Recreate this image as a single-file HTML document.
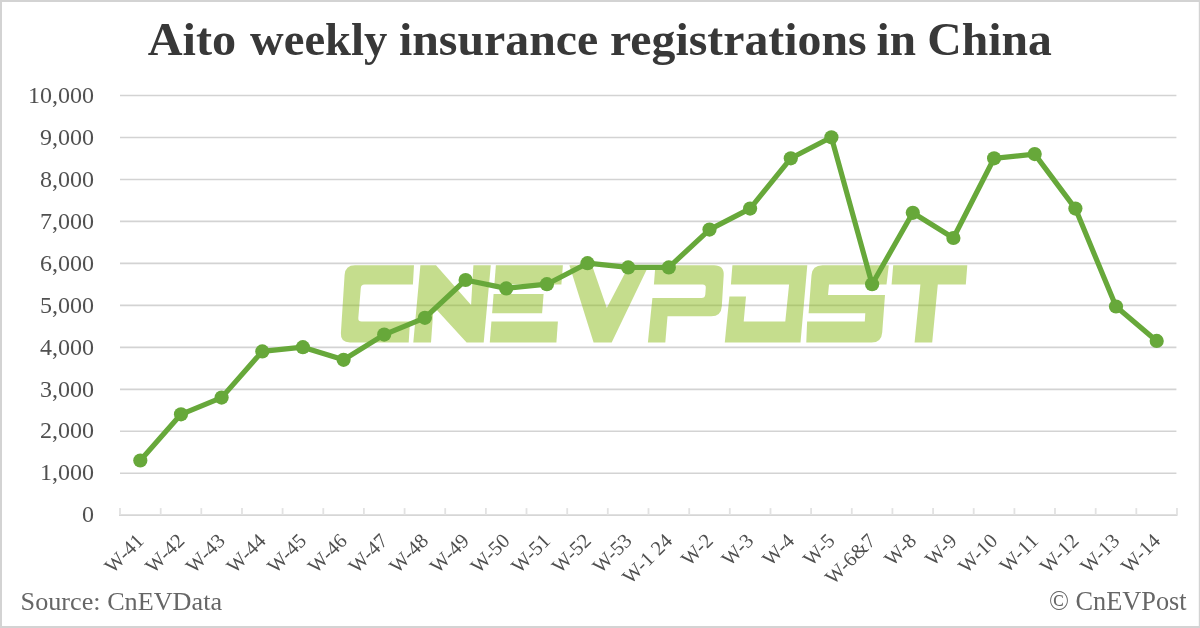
<!DOCTYPE html>
<html><head><meta charset="utf-8"><title>Aito weekly insurance registrations in China</title>
<style>
html,body{margin:0;padding:0;background:#fff;}
body{width:1200px;height:628px;overflow:hidden;font-family:"Liberation Serif",serif;}
svg{display:block;will-change:transform;}
text{font-family:"Liberation Serif",serif;}
</style></head><body>
<svg width="1200" height="628" viewBox="0 0 1200 628">
<rect x="0" y="0" width="1200" height="628" fill="#ffffff"/>
<line x1="120.0" y1="473.3" x2="1176.4" y2="473.3" stroke="#d3d3d3" stroke-width="1.6"/>
<line x1="120.0" y1="431.3" x2="1176.4" y2="431.3" stroke="#d3d3d3" stroke-width="1.6"/>
<line x1="120.0" y1="389.4" x2="1176.4" y2="389.4" stroke="#d3d3d3" stroke-width="1.6"/>
<line x1="120.0" y1="347.4" x2="1176.4" y2="347.4" stroke="#d3d3d3" stroke-width="1.6"/>
<line x1="120.0" y1="305.4" x2="1176.4" y2="305.4" stroke="#d3d3d3" stroke-width="1.6"/>
<line x1="120.0" y1="263.4" x2="1176.4" y2="263.4" stroke="#d3d3d3" stroke-width="1.6"/>
<line x1="120.0" y1="221.4" x2="1176.4" y2="221.4" stroke="#d3d3d3" stroke-width="1.6"/>
<line x1="120.0" y1="179.5" x2="1176.4" y2="179.5" stroke="#d3d3d3" stroke-width="1.6"/>
<line x1="120.0" y1="137.5" x2="1176.4" y2="137.5" stroke="#d3d3d3" stroke-width="1.6"/>
<line x1="120.0" y1="95.5" x2="1176.4" y2="95.5" stroke="#d3d3d3" stroke-width="1.6"/>
<g fill="#8bbb1b" fill-opacity="0.5">
<path d="M355,265.3 H414 L412.9,284.5 H364.5 Q361,284.5 360.8,288 L358.3,318 Q358,321.6 361.6,321.6 H410 L408.7,342.4 H350 Q340.3,342.4 340.9,333 L344.6,275 Q345.2,265.3 355,265.3 Z"/>
<path d="M420.4,265.3 H436 L471.1,304.9 L473.4,265.3 H490.8 L483.7,342.4 H466.6 L433.6,306.4 L431,342.4 H413.3 Z"/>
<path d="M495.9,265.3 H562.9 L561.4,284.5 H494.4 Z"/>
<path d="M493.6,294 H543.6 L542.1,313.2 H492.1 Z"/>
<path d="M491.4,321.6 H557.9 L556.4,342.4 H489.8 Z"/>
<path d="M569.4,265.3 H592 L606.8,308 L629.1,265.3 H648.8 L611.7,342.4 H593.6 Z"/>
<path d="M655.4,265.3 H714 Q724.3,265.3 723.7,275.3 L721.8,306.3 Q721.2,316.3 711.2,316.3 H667.5 L665.3,342.4 H647.9 L652.4,298.1 H701.5 Q705,298.1 705.3,294.6 L705.8,288 Q706.1,284.5 702.6,284.5 H653.9 Z"/>
<path d="M732.4,265.3 H807.3 L800.5,342.4 H724.8 L729.4,296.6 H746 L743.7,321.6 H785.3 L789.1,284.5 H730.9 Z"/>
<path d="M822.5,265.3 H888.8 L886.5,284.5 H829 L828,295.1 H885 L882.2,332.4 Q881.5,342.4 871.5,342.4 H806.3 L807.1,321.6 H864.8 L865.3,313.2 H808.6 L811.5,275.3 Q812.2,265.3 822.5,265.3 Z"/>
<path d="M893.2,265.3 H967.3 L965.8,284.5 H937.8 L932.2,342.4 H914.6 L920.4,284.5 H891.6 Z"/>
</g>
<line x1="119.0" y1="515.1" x2="1177.5" y2="515.1" stroke="#d6d6d6" stroke-width="1.7"/>
<line x1="120.0" y1="508.1" x2="120.0" y2="515.1" stroke="#e2e2e2" stroke-width="1.8"/>
<line x1="160.7" y1="508.1" x2="160.7" y2="515.1" stroke="#e2e2e2" stroke-width="1.8"/>
<line x1="201.3" y1="508.1" x2="201.3" y2="515.1" stroke="#e2e2e2" stroke-width="1.8"/>
<line x1="242.0" y1="508.1" x2="242.0" y2="515.1" stroke="#e2e2e2" stroke-width="1.8"/>
<line x1="282.6" y1="508.1" x2="282.6" y2="515.1" stroke="#e2e2e2" stroke-width="1.8"/>
<line x1="323.3" y1="508.1" x2="323.3" y2="515.1" stroke="#e2e2e2" stroke-width="1.8"/>
<line x1="363.9" y1="508.1" x2="363.9" y2="515.1" stroke="#e2e2e2" stroke-width="1.8"/>
<line x1="404.6" y1="508.1" x2="404.6" y2="515.1" stroke="#e2e2e2" stroke-width="1.8"/>
<line x1="445.2" y1="508.1" x2="445.2" y2="515.1" stroke="#e2e2e2" stroke-width="1.8"/>
<line x1="485.9" y1="508.1" x2="485.9" y2="515.1" stroke="#e2e2e2" stroke-width="1.8"/>
<line x1="526.5" y1="508.1" x2="526.5" y2="515.1" stroke="#e2e2e2" stroke-width="1.8"/>
<line x1="567.2" y1="508.1" x2="567.2" y2="515.1" stroke="#e2e2e2" stroke-width="1.8"/>
<line x1="607.8" y1="508.1" x2="607.8" y2="515.1" stroke="#e2e2e2" stroke-width="1.8"/>
<line x1="648.5" y1="508.1" x2="648.5" y2="515.1" stroke="#e2e2e2" stroke-width="1.8"/>
<line x1="689.2" y1="508.1" x2="689.2" y2="515.1" stroke="#e2e2e2" stroke-width="1.8"/>
<line x1="729.8" y1="508.1" x2="729.8" y2="515.1" stroke="#e2e2e2" stroke-width="1.8"/>
<line x1="770.5" y1="508.1" x2="770.5" y2="515.1" stroke="#e2e2e2" stroke-width="1.8"/>
<line x1="811.1" y1="508.1" x2="811.1" y2="515.1" stroke="#e2e2e2" stroke-width="1.8"/>
<line x1="851.8" y1="508.1" x2="851.8" y2="515.1" stroke="#e2e2e2" stroke-width="1.8"/>
<line x1="892.4" y1="508.1" x2="892.4" y2="515.1" stroke="#e2e2e2" stroke-width="1.8"/>
<line x1="933.1" y1="508.1" x2="933.1" y2="515.1" stroke="#e2e2e2" stroke-width="1.8"/>
<line x1="973.7" y1="508.1" x2="973.7" y2="515.1" stroke="#e2e2e2" stroke-width="1.8"/>
<line x1="1014.4" y1="508.1" x2="1014.4" y2="515.1" stroke="#e2e2e2" stroke-width="1.8"/>
<line x1="1055.0" y1="508.1" x2="1055.0" y2="515.1" stroke="#e2e2e2" stroke-width="1.8"/>
<line x1="1095.7" y1="508.1" x2="1095.7" y2="515.1" stroke="#e2e2e2" stroke-width="1.8"/>
<line x1="1136.3" y1="508.1" x2="1136.3" y2="515.1" stroke="#e2e2e2" stroke-width="1.8"/>
<line x1="1177.0" y1="508.1" x2="1177.0" y2="515.1" stroke="#e2e2e2" stroke-width="1.8"/>
<text x="94" y="522.4" font-size="24" fill="#505050" text-anchor="end">0</text>
<text x="94" y="480.4" font-size="24" fill="#505050" text-anchor="end">1,000</text>
<text x="94" y="438.4" font-size="24" fill="#505050" text-anchor="end">2,000</text>
<text x="94" y="396.5" font-size="24" fill="#505050" text-anchor="end">3,000</text>
<text x="94" y="354.5" font-size="24" fill="#505050" text-anchor="end">4,000</text>
<text x="94" y="312.5" font-size="24" fill="#505050" text-anchor="end">5,000</text>
<text x="94" y="270.5" font-size="24" fill="#505050" text-anchor="end">6,000</text>
<text x="94" y="228.5" font-size="24" fill="#505050" text-anchor="end">7,000</text>
<text x="94" y="186.6" font-size="24" fill="#505050" text-anchor="end">8,000</text>
<text x="94" y="144.6" font-size="24" fill="#505050" text-anchor="end">9,000</text>
<text x="94" y="102.6" font-size="24" fill="#505050" text-anchor="end">10,000</text>
<text transform="translate(145.0,542.0) rotate(-45)" font-size="20.5" fill="#505050" text-anchor="end">W-41</text>
<text transform="translate(185.7,542.0) rotate(-45)" font-size="20.5" fill="#505050" text-anchor="end">W-42</text>
<text transform="translate(226.3,542.0) rotate(-45)" font-size="20.5" fill="#505050" text-anchor="end">W-43</text>
<text transform="translate(267.0,542.0) rotate(-45)" font-size="20.5" fill="#505050" text-anchor="end">W-44</text>
<text transform="translate(307.6,542.0) rotate(-45)" font-size="20.5" fill="#505050" text-anchor="end">W-45</text>
<text transform="translate(348.3,542.0) rotate(-45)" font-size="20.5" fill="#505050" text-anchor="end">W-46</text>
<text transform="translate(388.9,542.0) rotate(-45)" font-size="20.5" fill="#505050" text-anchor="end">W-47</text>
<text transform="translate(429.6,542.0) rotate(-45)" font-size="20.5" fill="#505050" text-anchor="end">W-48</text>
<text transform="translate(470.3,542.0) rotate(-45)" font-size="20.5" fill="#505050" text-anchor="end">W-49</text>
<text transform="translate(510.9,542.0) rotate(-45)" font-size="20.5" fill="#505050" text-anchor="end">W-50</text>
<text transform="translate(551.6,542.0) rotate(-45)" font-size="20.5" fill="#505050" text-anchor="end">W-51</text>
<text transform="translate(592.2,542.0) rotate(-45)" font-size="20.5" fill="#505050" text-anchor="end">W-52</text>
<text transform="translate(632.9,542.0) rotate(-45)" font-size="20.5" fill="#505050" text-anchor="end">W-53</text>
<text transform="translate(673.5,542.0) rotate(-45)" font-size="20.5" fill="#505050" text-anchor="end">W-1 24</text>
<text transform="translate(714.2,542.0) rotate(-45)" font-size="20.5" fill="#505050" text-anchor="end">W-2</text>
<text transform="translate(754.8,542.0) rotate(-45)" font-size="20.5" fill="#505050" text-anchor="end">W-3</text>
<text transform="translate(795.5,542.0) rotate(-45)" font-size="20.5" fill="#505050" text-anchor="end">W-4</text>
<text transform="translate(836.1,542.0) rotate(-45)" font-size="20.5" fill="#505050" text-anchor="end">W-5</text>
<text transform="translate(876.8,542.0) rotate(-45)" font-size="20.5" fill="#505050" text-anchor="end">W-6&amp;7</text>
<text transform="translate(917.5,542.0) rotate(-45)" font-size="20.5" fill="#505050" text-anchor="end">W-8</text>
<text transform="translate(958.1,542.0) rotate(-45)" font-size="20.5" fill="#505050" text-anchor="end">W-9</text>
<text transform="translate(998.8,542.0) rotate(-45)" font-size="20.5" fill="#505050" text-anchor="end">W-10</text>
<text transform="translate(1039.4,542.0) rotate(-45)" font-size="20.5" fill="#505050" text-anchor="end">W-11</text>
<text transform="translate(1080.1,542.0) rotate(-45)" font-size="20.5" fill="#505050" text-anchor="end">W-12</text>
<text transform="translate(1120.7,542.0) rotate(-45)" font-size="20.5" fill="#505050" text-anchor="end">W-13</text>
<text transform="translate(1161.4,542.0) rotate(-45)" font-size="20.5" fill="#505050" text-anchor="end">W-14</text>
<path d="M140.3,460.5 L181.0,414.3 L221.6,397.6 L262.3,351.4 L302.9,347.2 L343.6,359.8 L384.2,334.6 L424.9,317.8 L465.6,280.0 L506.2,288.4 L546.9,284.2 L587.5,263.2 L628.2,267.4 L668.8,267.4 L709.5,229.6 L750.1,208.6 L790.8,158.3 L831.4,137.3 L872.1,284.2 L912.8,212.8 L953.4,238.0 L994.1,158.3 L1034.7,154.1 L1075.4,208.6 L1116.0,306.5 L1156.7,340.9" fill="none" stroke="#67a83a" stroke-width="5.2" stroke-linejoin="round" stroke-linecap="round"/>
<circle cx="140.3" cy="460.5" r="7.1" fill="#67a83a"/>
<circle cx="181.0" cy="414.3" r="7.1" fill="#67a83a"/>
<circle cx="221.6" cy="397.6" r="7.1" fill="#67a83a"/>
<circle cx="262.3" cy="351.4" r="7.1" fill="#67a83a"/>
<circle cx="302.9" cy="347.2" r="7.1" fill="#67a83a"/>
<circle cx="343.6" cy="359.8" r="7.1" fill="#67a83a"/>
<circle cx="384.2" cy="334.6" r="7.1" fill="#67a83a"/>
<circle cx="424.9" cy="317.8" r="7.1" fill="#67a83a"/>
<circle cx="465.6" cy="280.0" r="7.1" fill="#67a83a"/>
<circle cx="506.2" cy="288.4" r="7.1" fill="#67a83a"/>
<circle cx="546.9" cy="284.2" r="7.1" fill="#67a83a"/>
<circle cx="587.5" cy="263.2" r="7.1" fill="#67a83a"/>
<circle cx="628.2" cy="267.4" r="7.1" fill="#67a83a"/>
<circle cx="668.8" cy="267.4" r="7.1" fill="#67a83a"/>
<circle cx="709.5" cy="229.6" r="7.1" fill="#67a83a"/>
<circle cx="750.1" cy="208.6" r="7.1" fill="#67a83a"/>
<circle cx="790.8" cy="158.3" r="7.1" fill="#67a83a"/>
<circle cx="831.4" cy="137.3" r="7.1" fill="#67a83a"/>
<circle cx="872.1" cy="284.2" r="7.1" fill="#67a83a"/>
<circle cx="912.8" cy="212.8" r="7.1" fill="#67a83a"/>
<circle cx="953.4" cy="238.0" r="7.1" fill="#67a83a"/>
<circle cx="994.1" cy="158.3" r="7.1" fill="#67a83a"/>
<circle cx="1034.7" cy="154.1" r="7.1" fill="#67a83a"/>
<circle cx="1075.4" cy="208.6" r="7.1" fill="#67a83a"/>
<circle cx="1116.0" cy="306.5" r="7.1" fill="#67a83a"/>
<circle cx="1156.7" cy="340.9" r="7.1" fill="#67a83a"/>
<text x="147.8" y="55" font-size="46.6" font-weight="bold" fill="#383838" textLength="88.4" lengthAdjust="spacingAndGlyphs">Aito</text>
<text x="250.0" y="55" font-size="46.6" font-weight="bold" fill="#383838" textLength="137.3" lengthAdjust="spacingAndGlyphs">weekly</text>
<text x="399.0" y="55" font-size="46.6" font-weight="bold" fill="#383838" textLength="199.2" lengthAdjust="spacingAndGlyphs">insurance</text>
<text x="610.0" y="55" font-size="46.6" font-weight="bold" fill="#383838" textLength="256.6" lengthAdjust="spacingAndGlyphs">registrations</text>
<text x="876.6" y="55" font-size="46.6" font-weight="bold" fill="#383838" textLength="39.4" lengthAdjust="spacingAndGlyphs">in</text>
<text x="927.3" y="55" font-size="46.6" font-weight="bold" fill="#383838" textLength="124.6" lengthAdjust="spacingAndGlyphs">China</text>
<text x="20.6" y="610" font-size="26.2" fill="#666666">Source: CnEVData</text>
<text x="1186.6" y="610" font-size="26.3" fill="#666666" text-anchor="end">© CnEVPost</text>
<path d="M0,0H1200V628H0Z M2,2V626H1198.8V2Z" fill="#d3d3d3" fill-rule="evenodd"/>
</svg></body></html>
